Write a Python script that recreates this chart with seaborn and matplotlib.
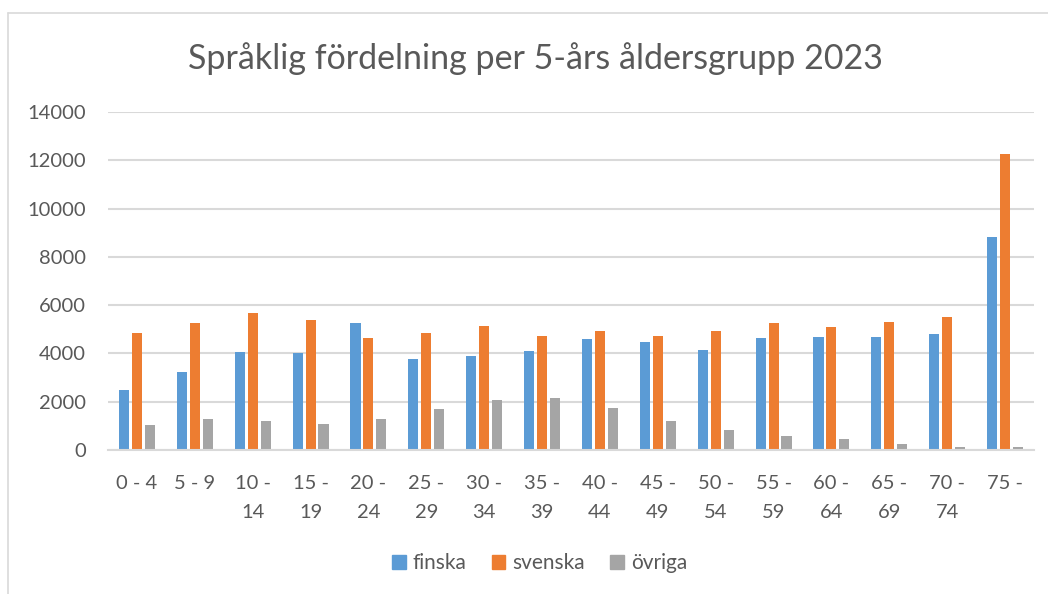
import pandas as pd
import matplotlib.pyplot as plt
import seaborn as sns
from matplotlib.lines import Line2D

# -----------------------------
# Data
# -----------------------------
groups = ["0 - 4", "5 - 9", "10 -\n14", "15 -\n19", "20 -\n24", "25 -\n29",
          "30 -\n34", "35 -\n39", "40 -\n44", "45 -\n49", "50 -\n54",
          "55 -\n59", "60 -\n64", "65 -\n69", "70 -\n74", "75 -"]
finska = [2480, 3230, 4050, 4030, 5250, 3770, 3900, 4110, 4590, 4480,
          4150, 4630, 4660, 4700, 4790, 8830]
svenska = [4850, 5270, 5680, 5380, 4630, 4850, 5120, 4740, 4920, 4730,
           4920, 5240, 5080, 5320, 5500, 12250]
ovriga = [1030, 1280, 1190, 1080, 1280, 1680, 2080, 2150, 1750, 1200,
          830, 590, 440, 250, 120, 140]
series = ["finska", "svenska", "övriga"]
colors = ["#5B9BD5", "#ED7D31", "#A5A5A5"]

df = pd.DataFrame({"grupp": groups * 3,
                   "antal": finska + svenska + ovriga,
                   "språk": [s for s in series for _ in groups]})

# -----------------------------
# Plot
# -----------------------------
sns.set_theme(style="white")
plt.rcParams['font.family'] = ['Lato', 'DejaVu Sans']
text_col = "#595959"
grid_col = "#D9D9D9"

fig = plt.figure(figsize=(10.48, 5.94), dpi=100)
ax = fig.add_axes([108 / 1048, 1 - 450 / 594, 926 / 1048, 338 / 594])

sns.barplot(data=df, x="grupp", y="antal", hue="språk", hue_order=series,
            palette=colors, width=0.67, gap=0.22, saturation=1,
            edgecolor="none", legend=False, ax=ax)

ax.set_xlim(-0.5, len(groups) - 0.5)
ax.set_ylim(0, 14000)
ax.set_yticks(range(0, 14001, 2000))
ax.yaxis.grid(True, color=grid_col, linewidth=1.5)
ax.set_axisbelow(True)
for side in ["top", "right", "left"]:
    ax.spines[side].set_visible(False)
ax.spines["bottom"].set_color(grid_col)
ax.spines["bottom"].set_linewidth(1.5)
ax.set_xlabel("")
ax.set_ylabel("")
ax.tick_params(axis="both", length=0, labelsize=14.5, colors=text_col)
ax.tick_params(axis="y", pad=16)
ax.tick_params(axis="x", pad=18)
for lbl in ax.get_xticklabels():
    lbl.set_linespacing(1.85)
    lbl.set_verticalalignment("top")

fig.text(0.511, 0.902, "Språklig fördelning per 5-års åldersgrupp 2023",
         ha="center", va="center", fontsize=24.5, color=text_col)

handles = [plt.Rectangle((0, 0), 1, 1, color=c) for c in colors]
fig.legend(handles, series, loc="center", bbox_to_anchor=(0.515, 1 - 563 / 594),
           ncol=3, frameon=False, fontsize=15, handlelength=0.65,
           handleheight=0.65, handletextpad=0.35, columnspacing=1.2,
           labelcolor=text_col)

# chart frame (left + top edges visible)
fig.add_artist(Line2D([8 / 1048, 8 / 1048], [0, 1 - 13 / 594],
                      color=grid_col, linewidth=1.2))
fig.add_artist(Line2D([8 / 1048, 1], [1 - 13 / 594, 1 - 13 / 594],
                      color=grid_col, linewidth=1.2))

fig.savefig("out.png", dpi=100)
plt.close(fig)
